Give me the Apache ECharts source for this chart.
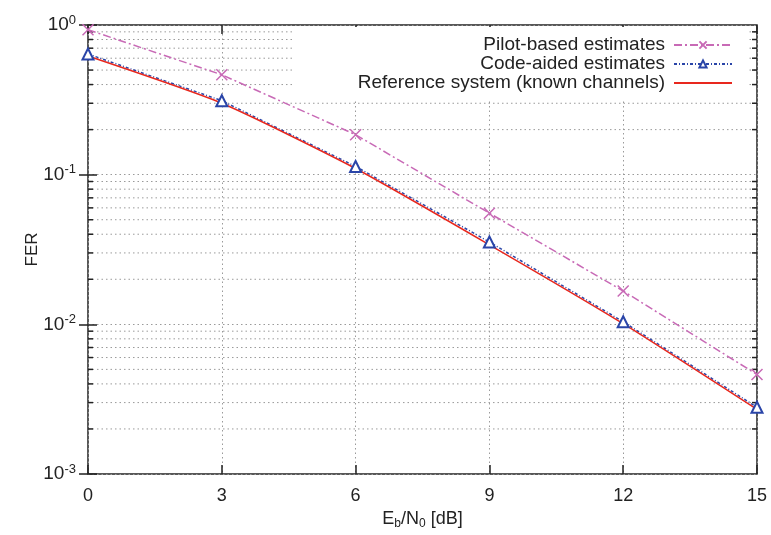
<!DOCTYPE html>
<html><head><meta charset="utf-8">
<script src="https://cdn.jsdelivr.net/npm/echarts@6/dist/echarts.min.js"></script>
<style>html,body{margin:0;padding:0;background:#fff}#c{width:771px;height:535px}</style>
</head><body><div id="c"></div>
<script>
var ebn0 = [0, 3, 6, 9, 12, 15];
var pilotFER = [0.93, 0.465, 0.185, 0.0553, 0.0167, 0.00462];
var codeFER = [0.64, 0.312, 0.1135, 0.0355, 0.0104, 0.00279];
var refFER = [0.62, 0.30, 0.110, 0.034, 0.0101, 0.0027];
var seriesNames = ['Pilot-based estimates', 'Code-aided estimates', 'Reference system (known channels)'];
var xTicks = [0, 3, 6, 9, 12, 15];
var yExp = ['-3', '-2', '-1', '0'];
var minorVals = [];
[0.001, 0.01, 0.1].forEach(function (d) { for (var k = 2; k <= 9; k++) minorVals.push(+(d * k).toPrecision(3)); });

var FONT = 'Liberation Sans, Arial, sans-serif';
var chart = echarts.init(document.getElementById('c'), null, {renderer: 'canvas'});
function pairs(ys) { return ebn0.map(function (x, i) { return [x, ys[i]]; }); }
var gridDot = {color: '#9a9a9a', width: 1, type: [1.5, 3]};

var option = {
  backgroundColor: '#fff',
  animation: false,
  grid: {left: 88, right: 14, top: 25, bottom: 59, show: true, borderColor: '#222', borderWidth: 1.5, backgroundColor: 'transparent'},
  xAxis: [{
    type: 'value', min: 0, max: 15, interval: 3, position: 'bottom',
    name: 'E{sub|b}/N{sub|0} [dB]', nameLocation: 'middle', nameGap: 35,
    nameTextStyle: {fontFamily: FONT, fontSize: 18, color: '#222', rich: {sub: {fontSize: 12, verticalAlign: 'bottom', padding: [9, 0, 0, 0], fontFamily: FONT, color: '#222'}}},
    axisLine: {show: false},
    axisTick: {inside: true, length: 9, lineStyle: {color: '#222', width: 1.5}},
    axisLabel: {fontFamily: FONT, fontSize: 18, color: '#222', margin: 13},
    splitLine: {show: true, lineStyle: gridDot}
  }, {
    type: 'value', min: 0, max: 15, interval: 3, position: 'top',
    axisLine: {show: false},
    axisTick: {inside: true, length: 9, lineStyle: {color: '#222', width: 1.5}},
    axisLabel: {show: false}, splitLine: {show: false}
  }],
  yAxis: [{
    type: 'log', logBase: 10, min: 0.001, max: 1, position: 'left',
    name: 'FER', nameLocation: 'middle', nameGap: 47, nameRotate: 90, nameMoveOverlap: false,
    nameTextStyle: {fontFamily: FONT, fontSize: 17, color: '#222'},
    axisLine: {show: false},
    axisTick: {inside: true, length: 9, lineStyle: {color: '#222', width: 1.5}},
    axisLabel: {
      fontFamily: FONT, fontSize: 19, color: '#222', margin: 12,
      formatter: function (v) { var e = Math.round(Math.log10(v)); return '10{sup|' + e + '}'; },
      rich: {sup: {fontSize: 13, verticalAlign: 'top', padding: [0, 0, 10, 0], fontFamily: FONT, color: '#222'}}
    },
    splitLine: {show: true, lineStyle: gridDot}
  }, {
    type: 'log', logBase: 10, min: 0.001, max: 1, position: 'right',
    axisLine: {show: false},
    axisTick: {inside: true, length: 9, lineStyle: {color: '#222', width: 1.5}},
    axisLabel: {show: false}, splitLine: {show: false}
  }],
  graphic: [{
    type: 'rect', z: 1, silent: true,
    shape: {x: 292, y: 27, width: 455, height: 72},
    style: {fill: '#fff'}
  }],
  legend: seriesNames.map(function (n, i) {
    var item = {name: n};
    if (i === 2) item.itemStyle = {opacity: 0};
    return {
      data: [item], right: 38, top: 35 + i * 19, align: 'right', orient: 'vertical',
      itemWidth: 58, itemHeight: 9, z: 5, padding: 0,
      textStyle: {fontFamily: FONT, fontSize: 19, lineHeight: 20, color: '#222', padding: [0, 4, 0, 0]}
    };
  }),
  series: [{
    type: 'custom', z: 0, silent: true, xAxisIndex: 0, yAxisIndex: 0,
    data: minorVals.map(function (v) { return [0, v]; }),
    renderItem: function (params, api) {
      var v = api.value(1);
      var p0 = api.coord([0, v]), p1 = api.coord([15, v]);
      return {type: 'group', children: [
        {type: 'line', shape: {x1: p0[0], y1: p0[1], x2: p1[0], y2: p1[1]}, style: {stroke: '#9a9a9a', lineWidth: 1, lineDash: [1.5, 3]}},
        {type: 'line', shape: {x1: p0[0], y1: p0[1], x2: p0[0] + 5, y2: p0[1]}, style: {stroke: '#222', lineWidth: 1.5}},
        {type: 'line', shape: {x1: p1[0] - 5, y1: p1[1], x2: p1[0], y2: p1[1]}, style: {stroke: '#222', lineWidth: 1.5}}
      ]};
    }
  }, {
    name: seriesNames[0], type: 'line', z: 3, data: pairs(pilotFER),
    symbol: 'path://M0,0L10,10M10,0L0,10', symbolSize: 11,
    lineStyle: {color: '#c86ab6', width: 1.5, type: [8, 3, 2, 3]},
    itemStyle: {color: '#c86ab6', borderColor: '#c86ab6', borderWidth: 1.5}
  }, {
    name: seriesNames[1], type: 'line', z: 3, data: pairs(codeFER),
    symbol: 'emptyTriangle', symbolSize: 11,
    lineStyle: {color: '#2a45a8', width: 1.5, type: [3, 2, 1, 2]},
    itemStyle: {color: '#2a45a8', borderColor: '#2a45a8', borderWidth: 1.5}
  }, {
    name: seriesNames[2], type: 'line', z: 3, data: pairs(refFER), smooth: 0.2,
    symbol: 'none',
    lineStyle: {color: '#e8281e', width: 1.5},
    itemStyle: {color: '#e8281e'}
  }]
};
chart.setOption(option);
</script></body></html>
